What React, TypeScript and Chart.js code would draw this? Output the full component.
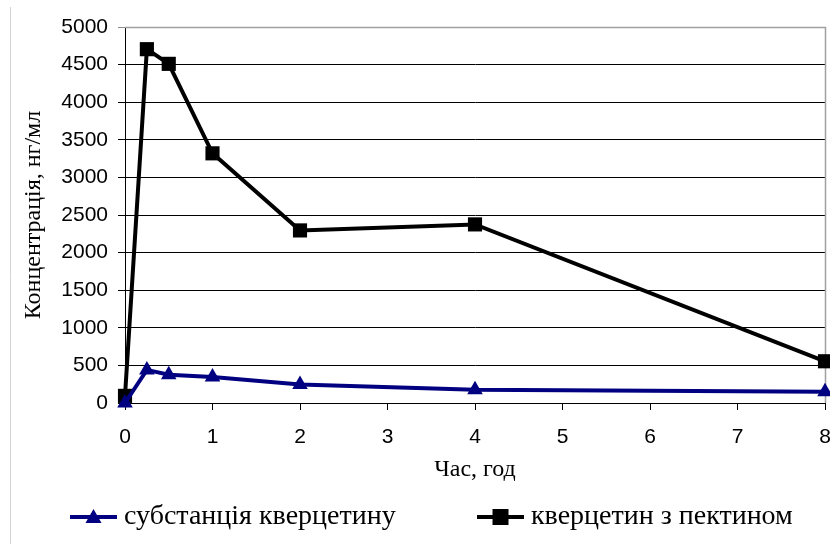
import React, { useEffect, useRef } from "react";
import { Chart, registerables } from "chart.js";

Chart.register(...registerables);

// Sampling times, h
const hours = [0, 0.25, 0.5, 1, 2, 4, 8];
// Plasma concentration, ng/ml
const quercetinSubstance = [0, 440, 375, 345, 245, 175, 150];
const quercetinPectin = [95, 4705, 4510, 3320, 2295, 2375, 555];

const seriesNames = ["субстанція кверцетину", "кверцетин з пектином"];
const seriesColors = ["#000080", "#000000"];
const xAxisTitle = "Час, год";
const yAxisTitle = "Концентрація, нг/мл";
const xMin = 0;
const xMax = 8;
const xStep = 1;
const yMin = 0;
const yMax = 5000;
const yStep = 500;

const SANS = "'Liberation Sans', Arial, sans-serif";
const SERIF = "'Liberation Serif', 'Times New Roman', serif";

// The canvas is a little wider than the visible frame so that the plot
// reaches the right edge even though the markers reserve some padding.
const CANVAS_W = 835;
const VIEW_W = 830;
const VIEW_H = 544;

function drawMarker(ctx: CanvasRenderingContext2D, kind: string, x: number, y: number, r: number, color: string) {
  ctx.save();
  ctx.fillStyle = color;
  ctx.beginPath();
  if (kind === "triangle") {
    ctx.moveTo(x, y - r);
    ctx.lineTo(x + r, y + r * 0.75);
    ctx.lineTo(x - r, y + r * 0.75);
    ctx.closePath();
  } else {
    ctx.rect(x - r, y - r, r * 2, r * 2);
  }
  ctx.fill();
  ctx.restore();
}

// Frame lines around the plot and the legend under the axis title
const decorPlugin = {
  id: "decor",
  beforeDatasetsDraw(chart: any) {
    const { ctx, chartArea } = chart;
    ctx.save();
    ctx.strokeStyle = "#a0a0a0";
    ctx.lineWidth = 1.5;
    ctx.beginPath();
    ctx.moveTo(chartArea.left, chartArea.top + 0.5);
    ctx.lineTo(chartArea.right + 0.5, chartArea.top + 0.5);
    ctx.lineTo(chartArea.right + 0.5, chartArea.bottom);
    ctx.stroke();
    ctx.restore();
  },
  afterDraw(chart: any) {
    const { ctx } = chart;
    ctx.save();
    // outer frame edge
    ctx.strokeStyle = "#d4d4d4";
    ctx.lineWidth = 1;
    ctx.beginPath();
    ctx.moveTo(10.5, 7);
    ctx.lineTo(10.5, chart.height);
    ctx.stroke();

    const y = 517;
    const items = [
      { x: 70, kind: "triangle" },
      { x: 477, kind: "square" },
    ];
    items.forEach((it, i) => {
      const color = seriesColors[i];
      ctx.strokeStyle = color;
      ctx.lineWidth = 4;
      ctx.beginPath();
      ctx.moveTo(it.x, y);
      ctx.lineTo(it.x + 47, y);
      ctx.stroke();
      drawMarker(ctx, it.kind, it.x + 23.5, y, 8, color);
      ctx.fillStyle = "#000";
      ctx.font = `28px ${SERIF}`;
      ctx.textBaseline = "middle";
      ctx.textAlign = "left";
      ctx.fillText(seriesNames[i], it.x + 54, y);
    });
    ctx.restore();
  },
};

export default function App() {
  const canvasRef = useRef<HTMLCanvasElement | null>(null);

  useEffect(() => {
    if (!canvasRef.current) return;
    const chart = new Chart(canvasRef.current, {
      type: "line",
      data: {
        datasets: [
          {
            label: seriesNames[0],
            data: hours.map((h, i) => ({ x: h, y: quercetinSubstance[i] })),
            borderColor: seriesColors[0],
            backgroundColor: seriesColors[0],
            borderWidth: 4,
            pointStyle: "triangle",
            pointRadius: 9,
            pointBorderWidth: 0,
            tension: 0,
            clip: false,
          },
          {
            label: seriesNames[1],
            data: hours.map((h, i) => ({ x: h, y: quercetinPectin[i] })),
            borderColor: seriesColors[1],
            backgroundColor: seriesColors[1],
            borderWidth: 4,
            pointStyle: "rect",
            pointRadius: 10,
            pointBorderWidth: 0,
            tension: 0,
            clip: false,
          },
        ],
      },
      options: {
        animation: false,
        responsive: false,
        maintainAspectRatio: false,
        layout: { padding: { left: 10, top: 27, right: 0, bottom: 60 } },
        plugins: {
          legend: { display: false },
          tooltip: { enabled: false },
        },
        scales: {
          x: {
            type: "linear",
            min: xMin,
            max: xMax,
            afterFit: (scale: any) => {
              scale.height = 81;
              scale.paddingLeft = 0;
              scale.paddingRight = 0;
            },
            ticks: {
              stepSize: xStep,
              color: "#000",
              font: { family: SANS, size: 21 },
              padding: 15,
              maxRotation: 0,
              callback: (v: any) => String(v),
            },
            grid: {
              drawOnChartArea: false,
              drawTicks: true,
              tickLength: 7,
              color: "#000",
            },
            border: { display: true, color: "#000", width: 1 },
            title: {
              display: true,
              text: xAxisTitle,
              color: "#000",
              font: { family: SERIF, size: 24 },
              padding: { top: 0, bottom: 0 },
            },
          },
          y: {
            min: yMin,
            max: yMax,
            afterFit: (scale: any) => {
              scale.width = 115;
              scale.paddingTop = 0;
              scale.paddingBottom = 0;
            },
            ticks: {
              stepSize: yStep,
              color: "#000",
              font: { family: SANS, size: 21 },
              padding: 10,
              callback: (v: any) => String(v),
            },
            grid: {
              color: (c: any) => (c.tick && c.tick.value === yMax ? "#909090" : "#000"),
              lineWidth: 1,
              tickLength: 7,
              drawTicks: true,
            },
            border: { display: true, color: "#000", width: 1 },
            title: {
              display: true,
              text: yAxisTitle,
              color: "#000",
              font: { family: SERIF, size: 24 },
              padding: { top: 9, bottom: 0 },
            },
          },
        },
      },
      plugins: [decorPlugin],
    });
    return () => chart.destroy();
  }, []);

  return (
    <div
      style={{
        position: "absolute",
        left: 0,
        top: 0,
        width: VIEW_W,
        height: VIEW_H,
        overflow: "hidden",
        background: "#fff",
      }}
    >
      <canvas ref={canvasRef} width={CANVAS_W} height={VIEW_H} style={{ display: "block" }} />
    </div>
  );
}
